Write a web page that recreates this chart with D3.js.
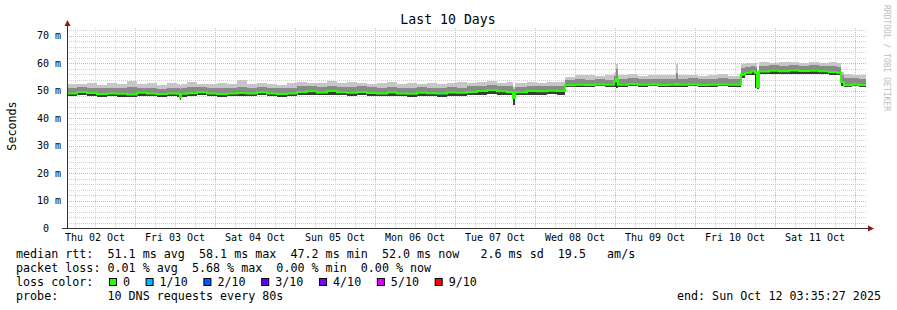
<!DOCTYPE html>
<html>
<head>
<meta charset="utf-8">
<script src="https://cdn.jsdelivr.net/npm/d3@7"></script>
<style>
  body { margin: 0; background: #fff; }
  text { font-family: "DejaVu Sans Mono", monospace; fill: #000; white-space: pre; }
</style>
</head>
<body>
<div id="chart"></div>
<script>
// smoke segments: start hour (after graph start) and the ping spread in ms
const segHours = [0, 3, 6, 9, 12, 15, 18, 21, 24, 27, 30, 33, 33.9, 34.2, 36, 39, 42, 45, 48, 51, 54, 57, 60, 63, 66, 69, 72, 75, 78, 81, 84, 87, 90, 93, 96, 99, 102, 105, 108, 111, 114, 117, 120, 123, 126, 129, 132, 133.8, 134.4, 138, 141, 144, 147,
  149.4, 152.4, 155.4, 158.4, 161.4, 164.1, 164.7, 165.3, 168.3, 171.3, 174.3, 177.3, 180.3, 182.7, 183.3, 186.3, 189.3, 192.3, 195.3, 198.3,
  202.2, 203.4, 205.2, 206.4, 207.0, 207.6, 210.6, 213.6, 216.6, 219.6, 222.6, 225.6, 228.6, 231.0,
  232.2, 233.1, 235.5, 237.6];
const medianMs = [49.0, 49.6, 49.2, 48.8, 49.0, 48.9, 48.7, 49.3, 49.0, 48.8, 49.0, 48.9, 47.6, 48.9, 49.1, 49.5, 49.0, 48.8, 49.0, 49.2, 49.0, 49.5, 49.0, 48.8, 49.0, 49.6, 49.8, 49.4, 49.9, 49.5, 49.3, 49.6, 49.2, 49.0, 49.4, 49.0, 48.9, 49.3, 49.1, 49.0, 49.4, 49.3, 49.6, 49.9, 50.3, 49.8, 49.6, 47.4, 49.5, 49.9, 49.8, 50.0, 49.9,
  52.0, 52.2, 52.1, 52.3, 52.2, 53.4, 54.3, 52.2, 52.4, 52.2, 52.3, 52.1, 52.2, 52.6, 52.2, 52.3, 52.1, 52.2, 52.3, 52.2,
  55.9, 56.6, 57.0, 56.5, 51.3, 57.0, 57.3, 57.1, 57.4, 57.2, 57.3, 57.1, 56.9, 56.6,
  53.2, 52.0, 52.3, 52.1];
const lowMs = [48.0, 48.3, 48.1, 47.9, 48.0, 47.9, 47.8, 48.2, 48.0, 47.9, 48.0, 47.8, 46.7, 47.9, 48.1, 48.3, 48.0, 47.9, 48.0, 48.1, 48.0, 48.3, 48.0, 47.9, 48.0, 48.4, 48.5, 48.3, 48.6, 48.4, 48.2, 48.4, 48.1, 48.0, 48.2, 48.0, 47.9, 48.2, 48.0, 47.9, 48.2, 48.1, 48.4, 48.5, 48.8, 48.6, 48.5, 44.8, 48.4, 48.6, 48.5, 48.7, 48.6,
  51.4, 51.5, 51.4, 51.6, 51.5, 51.4, 51.2, 51.5, 51.6, 51.5, 51.6, 51.4, 51.5, 51.3, 51.5, 51.6, 51.4, 51.5, 51.6, 51.5,
  54.8, 55.6, 55.9, 51.0, 50.8, 56.0, 56.2, 56.1, 56.3, 56.2, 56.2, 56.0, 55.9, 55.8,
  51.8, 51.4, 51.6, 51.5];
const upperMs = [51.0, 51.4, 51.2, 50.9, 51.1, 51.0, 51.3, 51.0, 51.2, 50.8, 51.1, 51.0, 50.6, 51.0, 51.3, 51.4, 51.0, 51.2, 51.1, 51.3, 51.0, 51.4, 51.1, 50.9, 51.2, 51.6, 51.7, 51.4, 51.8, 51.5, 51.3, 51.6, 51.3, 51.1, 51.4, 51.0, 51.2, 51.3, 51.1, 51.0, 51.3, 51.2, 51.6, 51.8, 52.0, 51.7, 51.6, 50.5, 51.5, 51.8, 51.7, 51.9, 51.8,
  54.0, 54.3, 54.1, 54.4, 54.0, 55.5, 58.0, 54.2, 54.5, 54.3, 54.4, 54.2, 54.3, 56.5, 54.3, 54.5, 54.2, 54.4, 54.6, 54.3,
  58.2, 58.8, 59.0, 58.8, 52.0, 59.2, 59.3, 59.1, 59.4, 59.2, 59.3, 59.1, 59.0, 58.8,
  55.6, 54.8, 54.6, 54.4];
const highMs = [52.6, 52.4, 53.0, 52.2, 52.8, 52.5, 53.6, 52.4, 52.9, 52.3, 52.7, 52.5, 52.2, 52.6, 53.1, 52.6, 52.4, 53.0, 52.5, 53.8, 52.6, 52.9, 52.4, 52.2, 52.8, 53.2, 52.9, 53.0, 53.4, 52.8, 53.1, 52.9, 52.6, 52.7, 53.2, 52.5, 52.8, 52.6, 53.0, 52.5, 52.7, 53.1, 52.9, 53.3, 53.4, 53.0, 53.2, 51.5, 53.0, 53.3, 52.9, 53.2, 53.1,
  55.2, 55.6, 55.9, 55.4, 55.7, 56.5, 59.8, 55.6, 56.0, 55.5, 55.8, 55.6, 55.7, 59.8, 55.6, 55.9, 55.4, 55.7, 56.0, 55.5,
  59.6, 60.2, 60.3, 60.0, 52.5, 60.5, 60.3, 60.4, 60.6, 60.3, 60.5, 60.2, 60.4, 60.1,
  56.8, 56.2, 55.9, 55.7];
const dataEndHour = 239.7;

// samples that lost packets (hour, lost pings out of 10)
const lossHours = [111.9];
const lossCounts = [1];

const lossLabels = ["0", "1/10", "2/10", "3/10", "4/10", "5/10", "9/10"];
const lossCountsLegend = [0, 1, 2, 3, 4, 5, 9];
const lossColors = ["#26ff00", "#00b8ff", "#0059ff", "#5e00ff", "#7e00ff", "#dd00ff", "#ff0000"];

const yTicks = [0, 10, 20, 30, 40, 50, 60, 70];
const rttNames = ["avg", "max", "min", "now"];
const rttValues = [51.1, 58.1, 47.2, 52.0];
const rttSd = 2.6, rttAmS = 19.5;
const lossPct = [0.01, 5.68, 0.00, 0.00];

const W = 897, H = 310;
const start = new Date(2025, 9, 2, 3, 35, 27);
const end = new Date(2025, 9, 12, 3, 35, 27);
const toDate = h => new Date(start.getTime() + h * 3600e3);

const x = d3.scaleTime().domain([start, end]).range([67, 867]);
const y = d3.scaleLinear().domain([0, 72.9]).range([228, 28]);
const px = v => Math.round(v) + 0.5;

const svg = d3.select("#chart").append("svg").attr("width", W).attr("height", H);

// grid lines
const grid = svg.append("g").attr("stroke-dasharray", "1,1").attr("shape-rendering", "crispEdges");
const minorY = d3.range(2, 73, 2).filter(v => v % 10 !== 0);
grid.selectAll(".gy").data(minorY).enter().append("line")
  .attr("x1", 67).attr("x2", 867).attr("y1", d => px(y(d))).attr("y2", d => px(y(d))).attr("stroke", "#cfcfcf");
const minorX = d3.timeHour.every(6).range(start, end).filter(d => d.getHours() !== 0);
grid.selectAll(".gx").data(minorX).enter().append("line")
  .attr("x1", d => px(x(d))).attr("x2", d => px(x(d))).attr("y1", 28).attr("y2", 228).attr("stroke", "#d4d4d4");
grid.selectAll(".my").data(yTicks.filter(d => d > 0)).enter().append("line")
  .attr("x1", 67).attr("x2", 867).attr("y1", d => px(y(d))).attr("y2", d => px(y(d))).attr("stroke", "#f0a4a4");
const days = d3.timeDay.range(start, end);
grid.selectAll(".mx").data(days).enter().append("line")
  .attr("x1", d => px(x(d))).attr("x2", d => px(x(d))).attr("y1", 28).attr("y2", 228).attr("stroke", "#f0a4a4");

// smoke
const pts = segHours.map((h, i) => ({ t: toDate(h), med: medianMs[i], lo: lowMs[i], uq: upperMs[i], hi: highMs[i] }));
pts.push(Object.assign({}, pts[pts.length - 1], { t: toDate(dataEndHour) }));
const band = (a, b) => d3.area().curve(d3.curveStepAfter).x(d => x(d.t)).y0(d => y(d[a])).y1(d => y(d[b]));
const smoke = svg.append("g").attr("shape-rendering", "crispEdges");
smoke.append("path").attr("d", band("lo", "hi")(pts)).attr("fill", "#c6c6c6");
smoke.append("path").attr("d", band("lo", "uq")(pts)).attr("fill", "#8a8a8a");
smoke.append("path").attr("d", band("lo", "med")(pts)).attr("fill", "#3a3a3a");

// median line coloured by loss
const medLine = d3.line().curve(d3.curveStepAfter).x(d => x(d.t)).y(d => y(d.med));
svg.append("path").attr("d", medLine(pts)).attr("fill", "none").attr("stroke", lossColors[0]).attr("stroke-width", 2);
lossHours.forEach((h, i) => {
  const k = d3.bisectRight(segHours, h) - 1;
  svg.append("rect").attr("x", Math.round(x(toDate(h)))).attr("y", Math.round(y(medianMs[k])) - 1)
    .attr("width", 1).attr("height", 2).attr("fill", lossColors[lossCountsLegend.indexOf(lossCounts[i])]);
});

// axes
svg.append("line").attr("x1", 67.5).attr("x2", 67.5).attr("y1", 228).attr("y2", 23).attr("stroke", "#333");
svg.append("line").attr("x1", 62).attr("x2", 869).attr("y1", 228.5).attr("y2", 228.5).attr("stroke", "#333");
svg.append("path").attr("d", "M64.5,26L70.5,26L67.5,20Z").attr("fill", "#8b1a1a");
svg.append("path").attr("d", "M868,225.5L868,231.5L874,228.5Z").attr("fill", "#8b1a1a");

// tick labels
svg.selectAll(".yl").data(yTicks).enter().append("text")
  .attr("x", d => d === 0 ? 49 : 61).attr("y", d => y(d) + 3.5).attr("text-anchor", "end")
  .style("font-size", "10px").text(d => d === 0 ? "0" : d + " m");
const noons = d3.timeDay.range(d3.timeDay.floor(start), end).map(d => d3.timeHour.offset(d, 12)).filter(d => d >= start && d <= end);
const fmt = d3.timeFormat("%a %d %b");
svg.selectAll(".xl").data(noons).enter().append("text")
  .attr("x", d => x(d)).attr("y", 241).attr("text-anchor", "middle").style("font-size", "10px").text(fmt);

svg.append("text").attr("x", 448).attr("y", 24).attr("text-anchor", "middle").style("font-size", "13.2px").text("Last 10 Days");
svg.append("text").attr("transform", "translate(15.5,126) rotate(-90)").attr("text-anchor", "middle")
  .style("font-size", "11.7px").text("Seconds");
svg.append("text").attr("transform", "translate(884,5) rotate(90)").style("font-size", "8px").style("fill", "#bdbdbd")
  .text("RRDTOOL / TOBI OETIKER");

// legend
const lg = svg.append("g").style("font-size", "11.7px");
const rttLine = "median rtt:  " + rttValues.map((v, i) => v.toFixed(1) + " ms " + rttNames[i]).join("  ")
  + "  " + rttSd.toFixed(1).padStart(4) + " ms sd  " + rttAmS.toFixed(1) + "   am/s";
const lossLine = "packet loss: " + lossPct.map((v, i) => v.toFixed(2) + " % " + rttNames[i]).join("  ");
lg.append("text").attr("x", 16).attr("y", 258).text(rttLine);
lg.append("text").attr("x", 16).attr("y", 272).text(lossLine);
lg.append("text").attr("x", 16).attr("y", 286).text("loss color:");
let cur = 109;
lossLabels.forEach((l, i) => {
  lg.append("rect").attr("x", cur + 0.5).attr("y", 278.5).attr("width", 7).attr("height", 7)
    .attr("fill", lossColors[i]).attr("stroke", "#000");
  lg.append("text").attr("x", cur + 14).attr("y", 286).text(l);
  cur += 14 + l.length * 7.08 + 15.5;
});
lg.append("text").attr("x", 16).attr("y", 300).text("probe:       10 DNS requests every 80s");
lg.append("text").attr("x", 881).attr("y", 300).attr("text-anchor", "end").text("end: Sun Oct 12 03:35:27 2025");
</script>
</body>
</html>
